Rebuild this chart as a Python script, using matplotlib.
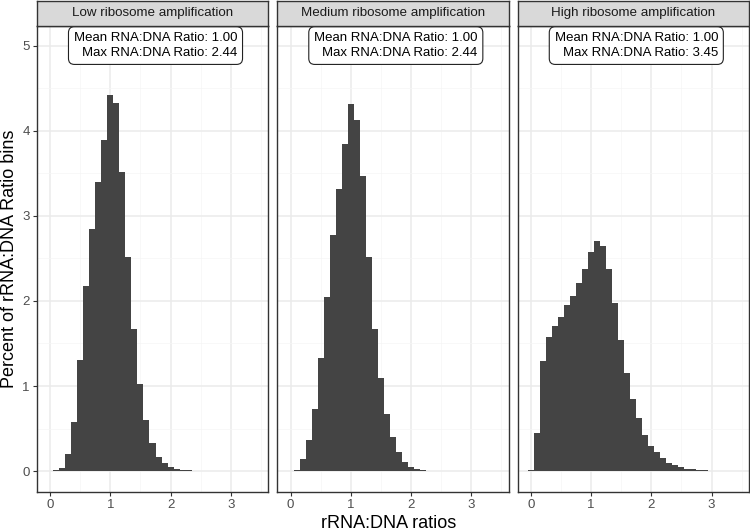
import matplotlib
matplotlib.use("Agg")
import matplotlib.pyplot as plt
import numpy as np

plt.rcParams['font.family'] = ['Liberation Sans', 'DejaVu Sans']

panel_titles = ["Low ribosome amplification", "Medium ribosome amplification", "High ribosome amplification"]
mean_ratios = [1.00, 1.00, 1.00]
max_ratios = [2.44, 2.44, 3.45]

low_centers = [0.1, 0.2, 0.3, 0.4, 0.5, 0.6, 0.7, 0.8, 0.9, 1.0, 1.1, 1.2, 1.3, 1.4, 1.5,
               1.6, 1.7, 1.8, 1.9, 2.0, 2.1, 2.2, 2.3, 2.4]
low_pct = [0.01, 0.04, 0.196, 0.58, 1.31, 2.18, 2.85, 3.40, 3.89, 4.42, 4.33, 3.51, 2.52, 1.67, 1.02,
           0.60, 0.33, 0.17, 0.09, 0.047, 0.027, 0.015, 0.008, 0.003]

med_centers = [0.1, 0.2, 0.3, 0.4, 0.5, 0.6, 0.7, 0.8, 0.9, 1.0, 1.1, 1.2, 1.3, 1.4, 1.5,
               1.6, 1.7, 1.8, 1.9, 2.0, 2.1, 2.2, 2.3, 2.4]
med_pct = [0.01, 0.14, 0.36, 0.73, 1.33, 2.05, 2.77, 3.31, 3.84, 4.31, 4.13, 3.47, 2.52, 1.67, 1.09,
           0.67, 0.40, 0.22, 0.11, 0.05, 0.027, 0.012, 0.005, 0.002]

high_centers = [0.0, 0.1, 0.2, 0.3, 0.4, 0.5, 0.6, 0.7, 0.8, 0.9, 1.0, 1.1, 1.2, 1.3, 1.4, 1.5,
                1.6, 1.7, 1.8, 1.9, 2.0, 2.1, 2.2, 2.3, 2.4, 2.5, 2.6, 2.7, 2.8, 2.9, 3.0,
                3.1, 3.2, 3.3]
high_pct = [0.01, 0.45, 1.29, 1.58, 1.70, 1.81, 1.95, 2.06, 2.21, 2.38, 2.58, 2.70, 2.65, 2.38, 1.98, 1.54,
            1.15, 0.85, 0.62, 0.43, 0.30, 0.22, 0.15, 0.10, 0.067, 0.047, 0.03, 0.02, 0.012, 0.008, 0.005,
            0.003, 0.002, 0.001]

x_ticks = [0, 1, 2, 3]
y_ticks = [0, 1, 2, 3, 4, 5]
x_label = "rRNA:DNA ratios"
y_label = "Percent of rRNA:DNA Ratio bins"

centers = [low_centers, med_centers, high_centers]
pcts = [low_pct, med_pct, high_pct]

W, H = 750, 532
fig = plt.figure(figsize=(W / 100, H / 100), dpi=100)

panel_lefts = [36.7, 277.0, 517.5]
panel_w = 231.6
panel_top = 26.0
panel_bottom = 492.3
strip_top = 0.5

bar_color = '#444444'
grid_color = '#EBEBEB'
border_color = '#333333'
tick_color = '#4D4D4D'

for i in range(3):
    l = panel_lefts[i]
    ax = fig.add_axes([l / W, (H - panel_bottom) / H, panel_w / W, (panel_bottom - panel_top) / H])
    ax.bar(centers[i], pcts[i], width=0.1, color=bar_color, linewidth=0, zorder=2)
    ax.set_xlim(-0.225, 3.625)
    ax.set_ylim(-0.249, 5.23)
    ax.set_xticks(x_ticks)
    ax.set_yticks(y_ticks)
    ax.set_xticks([0.5, 1.5, 2.5, 3.5], minor=True)
    ax.set_yticks([0.5, 1.5, 2.5, 3.5, 4.5], minor=True)
    ax.grid(True, which='major', color=grid_color, linewidth=1.1, zorder=0)
    ax.grid(True, which='minor', color='#F5F5F5', linewidth=0.5, zorder=0)
    ax.set_axisbelow(True)
    for s in ax.spines.values():
        s.set_color(border_color)
        s.set_linewidth(1.0)
    ax.tick_params(which='minor', length=0)
    ax.tick_params(which='major', length=3, width=0.8, color=border_color,
                   labelsize=9.5, labelcolor=tick_color, pad=2)
    if i > 0:
        ax.tick_params(axis='y', which='both', left=False, labelleft=False)
    txt = "Mean RNA:DNA Ratio: %.2f\nMax RNA:DNA Ratio: %.2f" % (mean_ratios[i], max_ratios[i])
    ax.text(1.75, 5.0, txt, ha='center', va='center', multialignment='right', fontsize=9.5,
            color='black', linespacing=1.35, zorder=5,
            bbox=dict(boxstyle='round,pad=0.4,rounding_size=0.45', fc='white', ec='#222222', lw=0.8))

    sax = fig.add_axes([l / W, (H - panel_top) / H, panel_w / W, (panel_top - strip_top) / H])
    sax.set_facecolor('#D9D9D9')
    sax.set_xticks([])
    sax.set_yticks([])
    for s in sax.spines.values():
        s.set_color(border_color)
        s.set_linewidth(1.0)
    sax.text(0.5, 0.5, panel_titles[i], ha='center', va='center', fontsize=9.6,
             color='#1A1A1A', transform=sax.transAxes)

fig.text(389 / W, 1 - 523 / H, x_label,
         ha='center', va='center', fontsize=13, color='black')
fig.text(10 / W, 1 - ((panel_top + panel_bottom) / 2) / H, y_label,
         ha='center', va='center', rotation=90, fontsize=13, color='black')

fig.savefig("out.png", dpi=100)
